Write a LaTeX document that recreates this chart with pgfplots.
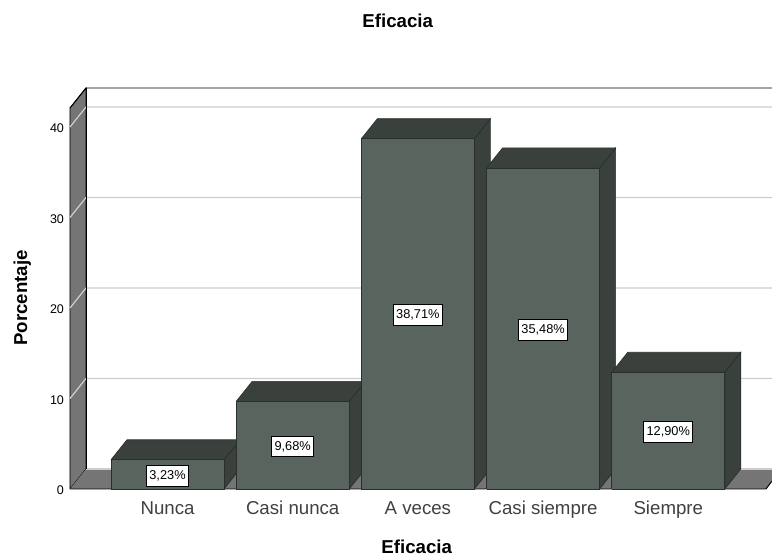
\documentclass[border=0pt]{standalone}
\usepackage{pgfplots}
\pgfplotsset{compat=1.18}
\usepackage{fontspec}
\setmainfont{Liberation Sans}
\definecolor{front}{HTML}{5A645E}
\definecolor{shade}{HTML}{3A413C}
\definecolor{wall}{HTML}{757575}
\definecolor{edge}{HTML}{2A2F2B}
\definecolor{gridc}{HTML}{CDCDCD}
% one 3D bar: centre, value
\newcommand{\cubebar}[2]{
  \addplot[fill=shade,draw=edge,line width=0.5pt] coordinates {(#1+0.4513,0) (#1+0.5791,2.21) (#1+0.5791,#2+2.21) (#1+0.4513,#2) (#1+0.4513,0)};
  \addplot[fill=shade,draw=edge,line width=0.5pt] coordinates {(#1-0.4513,#2) (#1-0.3235,#2+2.21) (#1+0.5791,#2+2.21) (#1+0.4513,#2) (#1-0.4513,#2)};
  \addplot[fill=front,draw=edge,line width=0.5pt] coordinates {(#1-0.4513,0) (#1-0.4513,#2) (#1+0.4513,#2) (#1+0.4513,0) (#1-0.4513,0)};
}
\begin{document}
\begin{tikzpicture}
\path[use as bounding box] (0,0) rectangle (579pt,417.75pt);
\begin{axis}[
  at={(52.5pt,51pt)},anchor=south west,
  scale only axis,width=526.5pt,height=300.75pt,
  xmin=-0.7788,xmax=4.8283,ymin=0,ymax=44.31,
  clip=false,
  axis line style={draw=none},
  major tick style={draw=none},
  xtick={0,1,2,3,4},
  xticklabels={Nunca,Casi nunca,A veces,Casi siempre,Siempre},
  ytick={0,10,20,30,40},
  xticklabel style={font=\fontsize{14}{16}\selectfont,text=black!75,yshift=-5.5pt,text height=10pt,text depth=3pt},
  yticklabel style={font=\fontsize{9.4}{11}\selectfont,xshift=-1pt,yshift=-1pt},
  /pgf/number format/assume math mode=true,
  title={\textbf{Eficacia}},
  title style={at={(axis description cs:0.467,1.147)},anchor=center,font=\fontsize{14}{16}\selectfont},
  xlabel={\textbf{Eficacia}},
  xlabel style={at={(axis description cs:0.494,-0.145)},anchor=center,font=\fontsize{14}{16}\selectfont},
  ylabel={\textbf{Porcentaje}},
  ylabel style={at={(axis description cs:-0.068,0.476)},anchor=center,font=\fontsize{14}{16}\selectfont},
]
% side wall and floor
\addplot[fill=wall,draw=black,line width=0.6pt] coordinates {(-0.7788,0) (-0.7788,42.1) (-0.651,44.31) (-0.651,2.21) (-0.7788,0)};
\addplot[fill=wall,draw=none] coordinates {(-0.7788,0) (-0.651,2.21) (4.8283,2.21) (4.8283,0.88) (4.7804,0) (-0.7788,0)};
\addplot[draw=black,line width=0.7pt] coordinates {(-0.7788,0) (4.7804,0) (4.8283,0.88)};
\addplot[draw=gridc,line width=0.8pt] coordinates {(-0.651,2.21) (4.8283,2.21)};
% grid lines
\addplot[draw=gridc,line width=0.9pt] coordinates {(-0.7788,10) (-0.651,12.21) (4.8283,12.21)};
\addplot[draw=gridc,line width=0.9pt] coordinates {(-0.7788,20) (-0.651,22.21) (4.8283,22.21)};
\addplot[draw=gridc,line width=0.9pt] coordinates {(-0.7788,30) (-0.651,32.21) (4.8283,32.21)};
\addplot[draw=gridc,line width=0.9pt] coordinates {(-0.7788,40) (-0.651,42.21) (4.8283,42.21)};
\addplot[draw=black,line width=0.7pt] coordinates {(-0.7788,42.1) (-0.651,44.31) (4.8283,44.31)};
\addplot[draw=black,line width=0.7pt] coordinates {(-0.651,44.31) (-0.651,2.21)};
% bars
\cubebar{0}{3.23}
\cubebar{1}{9.68}
\cubebar{2}{38.71}
\cubebar{3}{35.48}
\cubebar{4}{12.90}
% value labels
\addplot[draw=none,mark=none,point meta=explicit,
  nodes near coords={\pgfmathprintnumber[fixed,fixed zerofill,precision=2,use comma]{\pgfplotspointmeta}\%},
  every node near coord/.style={anchor=center,fill=white,draw=black,line width=0.7pt,yshift=-1pt,
    font=\fontsize{9.6}{11}\selectfont,inner xsep=2.2pt,inner ysep=1pt,minimum height=15.5pt,text=black},
] table[x=x,y=y,meta=v] {
x y v
0 1.62 3.23
1 4.84 9.68
2 19.36 38.71
3 17.74 35.48
4 6.45 12.90
};
\end{axis}
\end{tikzpicture}
\end{document}
